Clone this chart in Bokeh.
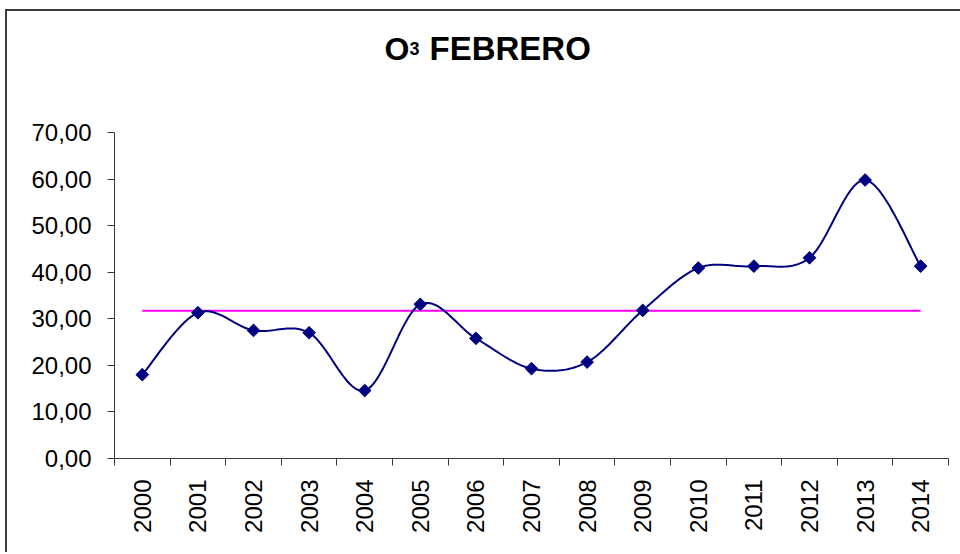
import numpy as np
from math import pi
from bokeh.plotting import figure
from bokeh.models import FixedTicker, Label
from bokeh.embed import file_html
from bokeh.resources import INLINE

# ---- data ----
years = ["2000", "2001", "2002", "2003", "2004", "2005", "2006", "2007",
         "2008", "2009", "2010", "2011", "2012", "2013", "2014"]
o3_values = [18.0, 31.3, 27.5, 27.0, 14.6, 33.1, 25.8, 19.3,
             20.7, 31.8, 40.9, 41.3, 43.1, 59.8, 41.3]
mean_value = 31.7
y_ticks = [0, 10, 20, 30, 40, 50, 60, 70]
y_tick_labels = ["0,00", "10,00", "20,00", "30,00", "40,00", "50,00", "60,00", "70,00"]
title_main = "O"
title_sub = "3"
title_rest = "FEBRERO"

FONT = "Liberation Sans"
NAVY = "#000080"
AXIS = "#3a3a3a"

x_idx = np.arange(len(years), dtype=float)
y_arr = np.array(o3_values, dtype=float)


def smooth(xs, ys, steps=24):
    """Excel-like smoothed line: cubic Bezier through points (Catmull-Rom tangents)."""
    n = len(xs)
    px = np.concatenate([[xs[0]], xs, [xs[-1]]])
    py = np.concatenate([[ys[0]], ys, [ys[-1]]])
    out_x, out_y = [], []
    t = np.linspace(0, 1, steps)
    for i in range(n - 1):
        p0 = np.array([px[i + 1], py[i + 1]])
        p3 = np.array([px[i + 2], py[i + 2]])
        c1 = p0 + (p3 - np.array([px[i], py[i]])) / 6.0
        c2 = p3 - (np.array([px[i + 3], py[i + 3]]) - p0) / 6.0
        b = ((1 - t) ** 3)[:, None] * p0 + (3 * (1 - t) ** 2 * t)[:, None] * c1 \
            + (3 * (1 - t) * t ** 2)[:, None] * c2 + (t ** 3)[:, None] * p3
        if i > 0:
            b = b[1:]
        out_x.extend(b[:, 0])
        out_y.extend(b[:, 1])
    return out_x, out_y


# plot area 326px tall for 0..70; the frame is extended upward to hold the title
AXIS_PX = 326
FRAME_H = 447
y_top = y_ticks[-1] * FRAME_H / AXIS_PX

p = figure(
    frame_width=834, frame_height=FRAME_H,
    x_range=(-0.5, len(years) - 0.5), y_range=(y_ticks[0], y_top),
    output_backend="svg", toolbar_location=None,
    min_border_left=107, min_border_right=12, min_border_top=0, min_border_bottom=94,
    background_fill_color="white", border_fill_color="white",
    outline_line_color=None,
    styles={"margin-left": "5px", "margin-top": "9px",
            "border-left": "2px solid #3a3a3a", "border-top": "2px solid #3a3a3a"},
)
p.xgrid.visible = False
p.ygrid.visible = False

# x axis: labels at category centres, tick marks at category boundaries
xa = p.xaxis[0]
xa.ticker = FixedTicker(ticks=list(range(len(years))),
                        minor_ticks=[i - 0.5 for i in range(len(years) + 1)])
xa.major_label_overrides = {i: years[i] for i in range(len(years))}
xa.major_label_orientation = pi / 2
xa.major_tick_line_color = None
xa.major_tick_out = 7
xa.major_tick_in = 0
xa.minor_tick_line_color = AXIS
xa.minor_tick_out = 7
xa.minor_tick_in = 0
xa.axis_line_color = AXIS
xa.major_label_standoff = 14
xa.major_label_text_font = FONT
xa.major_label_text_font_size = "24px"
xa.major_label_text_color = "black"

ya = p.yaxis[0]
ya.ticker = FixedTicker(ticks=y_ticks, minor_ticks=[])
ya.bounds = (y_ticks[0], y_ticks[-1])
ya.major_label_overrides = {v: s for v, s in zip(y_ticks, y_tick_labels)}
ya.major_tick_line_color = AXIS
ya.major_tick_out = 7
ya.major_tick_in = 0
ya.minor_tick_line_color = None
ya.axis_line_color = AXIS
ya.major_label_standoff = 16
ya.major_label_text_font = FONT
ya.major_label_text_font_size = "24px"
ya.major_label_text_color = "black"

# mean line
p.line([x_idx[0], x_idx[-1]], [mean_value, mean_value], line_color="#FF00FF", line_width=2)

# smoothed series
sx, sy = smooth(x_idx, y_arr)
p.line(sx, sy, line_color=NAVY, line_width=2)
p.scatter(x_idx, y_arr, marker="square", angle=pi / 4, size=9,
          fill_color=NAVY, line_color=NAVY)

# title, built from parts (small "3"); screen units relative to the frame (y up)
TY = 410
p.add_layout(Label(x=270, y=TY, x_units="screen", y_units="screen", text=title_main,
                   text_font=FONT, text_font_size="32px", text_font_style="bold",
                   text_baseline="alphabetic", text_align="left", text_color="black"))
p.add_layout(Label(x=295, y=TY, x_units="screen", y_units="screen", text=title_sub,
                   text_font=FONT, text_font_size="18px", text_font_style="bold",
                   text_baseline="alphabetic", text_align="left", text_color="black"))
p.add_layout(Label(x=315, y=TY, x_units="screen", y_units="screen", text=title_rest,
                   text_font=FONT, text_font_size="33px", text_font_style="bold",
                   text_baseline="alphabetic", text_align="left", text_color="black"))

open("out.html", "w").write(file_html(p, INLINE))
